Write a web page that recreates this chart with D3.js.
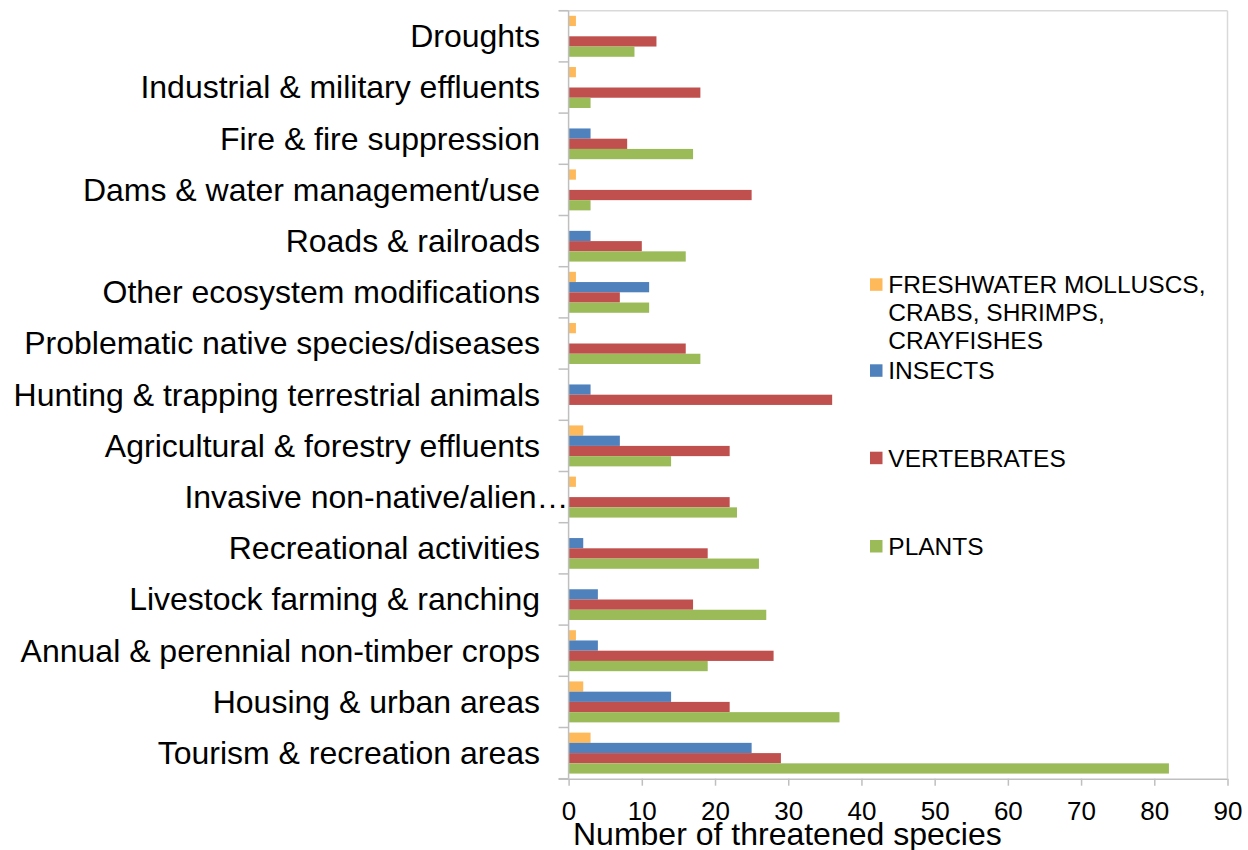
<!DOCTYPE html>
<html>
<head>
<script src="https://d3js.org/d3.v7.min.js"></script>
<style>
  body { margin: 0; background: #fff; }
  text { font-family: "Liberation Sans", Arial, sans-serif; fill: #000; }
</style>
</head>
<body>
<svg width="1248" height="850"></svg>
<script>
// threats, top to bottom as in the chart
const threats = [
  "Droughts",
  "Industrial & military effluents",
  "Fire & fire suppression",
  "Dams & water management/use",
  "Roads & railroads",
  "Other ecosystem modifications",
  "Problematic native species/diseases",
  "Hunting & trapping terrestrial animals",
  "Agricultural & forestry effluents",
  "Invasive non-native/alien\u2026",
  "Recreational activities",
  "Livestock farming & ranching",
  "Annual & perennial non-timber crops",
  "Housing & urban areas",
  "Tourism & recreation areas"
];

const seriesNames = ["FRESHWATER MOLLUSCS, CRABS, SHRIMPS, CRAYFISHES", "INSECTS", "VERTEBRATES", "PLANTS"];
const legendLines = [["FRESHWATER MOLLUSCS,", "CRABS, SHRIMPS,", "CRAYFISHES"], ["INSECTS"], ["VERTEBRATES"], ["PLANTS"]];
const seriesColors = ["#FEB95B", "#4F81BD", "#C0504D", "#9BBB59"];

const molluscs    = [1, 1, 0, 1, 0, 1, 1, 0, 2, 1, 0, 0, 1, 2, 3];
const insects     = [0, 0, 3, 0, 3, 11, 0, 3, 7, 0, 2, 4, 4, 14, 25];
const vertebrates = [12, 18, 8, 25, 10, 7, 16, 36, 22, 22, 19, 17, 28, 22, 29];
const plants      = [9, 3, 17, 3, 16, 11, 18, 0, 14, 23, 26, 27, 19, 37, 82];

const xTicks = [0, 10, 20, 30, 40, 50, 60, 70, 80, 90];

const svg = d3.select("svg");
const plotL = 568.6, plotR = 1227.5, plotT = 10.7, plotB = 778.7;

const x = d3.scaleLinear().domain([0, 90]).range([plotL, plotR]);
const y = d3.scaleBand().domain(threats).range([plotT, plotB])
    .paddingInner(0.2).paddingOuter(0.1);
const ySub = d3.scaleBand().domain(d3.range(4)).range([0, y.bandwidth()]);

const allSeries = [molluscs, insects, vertebrates, plants];
const rows = [];
threats.forEach((t, i) => {
  allSeries.forEach((s, k) => rows.push({ threat: t, k: k, v: s[i] }));
});

// plot border (top + right)
svg.append("line").attr("x1", plotL - 10).attr("x2", plotR)
   .attr("y1", plotT).attr("y2", plotT).attr("stroke", "#D9D9D9").attr("stroke-width", 1.5);
svg.append("line").attr("x1", plotR).attr("x2", plotR)
   .attr("y1", plotT).attr("y2", plotB).attr("stroke", "#D9D9D9").attr("stroke-width", 1.5);

// bars
svg.append("g").selectAll("rect").data(rows.filter(d => d.v > 0)).join("rect")
   .attr("x", x(0))
   .attr("y", d => y(d.threat) + ySub(d.k))
   .attr("width", d => x(d.v) - x(0))
   .attr("height", ySub.bandwidth())
   .attr("fill", d => seriesColors[d.k]);

// category axis: line + boundary ticks
const step = y.step();
svg.append("line").attr("x1", plotL).attr("x2", plotL).attr("y1", plotT).attr("y2", plotB)
   .attr("stroke", "#BFBFBF").attr("stroke-width", 1.5);
svg.append("g").selectAll("line").data(d3.range(threats.length + 1)).join("line")
   .attr("x1", plotL - 10).attr("x2", plotL)
   .attr("y1", i => plotT + i * step).attr("y2", i => plotT + i * step)
   .attr("stroke", "#BFBFBF").attr("stroke-width", 1.5);

svg.append("g").selectAll("text").data(threats).join("text")
   .attr("x", d => d.endsWith("\u2026") ? plotL : 540)
   .attr("y", d => y(d) + y.bandwidth() / 2 + 10.8)
   .attr("text-anchor", "end")
   .attr("font-size", 32)
   .text(d => d);

// value axis
const xAxis = svg.append("g").attr("transform", `translate(0,${plotB})`)
   .call(d3.axisBottom(x).tickValues(xTicks).tickSize(7).tickPadding(16).tickFormat(d3.format("d")));
xAxis.select(".domain").attr("stroke", "#BFBFBF").attr("stroke-width", 1.5)
   .attr("d", `M${plotL - 10},0.5H${plotR}`);
xAxis.selectAll(".tick line").attr("stroke", "#BFBFBF").attr("stroke-width", 1.5);
xAxis.selectAll(".tick text").attr("font-size", 26).attr("font-family", "Liberation Sans, Arial, sans-serif")
   .attr("fill", "#000");

svg.append("text").attr("x", 573).attr("y", 844.5).attr("font-size", 32)
   .text("Number of threatened species");

// legend
const legendBaselines = [293.3, 379.3, 466.7, 555];
const lg = svg.append("g");
seriesNames.forEach((name, k) => {
  lg.append("rect").attr("x", 870).attr("y", legendBaselines[k] - 15)
    .attr("width", 12.5).attr("height", 12.5).attr("fill", seriesColors[k]);
  const t = lg.append("text").attr("x", 888.3).attr("y", legendBaselines[k]).attr("font-size", 24.5);
  legendLines[k].forEach((ln, j) => {
    t.append("tspan").attr("x", 888.3).attr("y", legendBaselines[k] + j * 28).text(ln);
  });
});
</script>
</body>
</html>
